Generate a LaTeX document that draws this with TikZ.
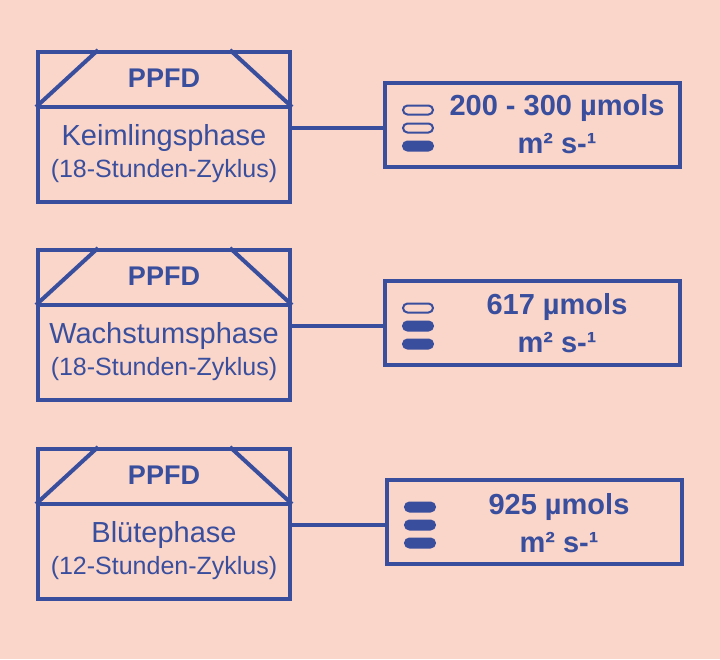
\documentclass[tikz,border=0pt]{standalone}
\usepackage{fontspec}
\setmainfont{Liberation Sans}
\usetikzlibrary{calc}
\usetikzlibrary{positioning}
\definecolor{bgpink}{HTML}{F9D6C9}
\definecolor{ppblue}{HTML}{3A4E9E}
\tikzstyle{phase} = [draw=ppblue, line width=4pt, rectangle, minimum width=252pt, minimum height=150pt, inner sep=0pt]
\tikzstyle{value} = [draw=ppblue, line width=4pt, rectangle, minimum width=295pt, minimum height=84pt, inner sep=0pt]
\tikzstyle{pill} = [draw=ppblue, line width=2pt, rounded corners=4.5pt, minimum width=30pt, minimum height=9pt, inner sep=0pt]
\tikzstyle{pillon} = [pill, fill=ppblue]
\tikzstyle{link} = [draw=ppblue, line width=4pt]
\tikzstyle{txt} = [text=ppblue, inner sep=0pt, font=\fontsize{29}{32}\selectfont]
\tikzstyle{sub} = [text=ppblue, inner sep=0pt, font=\fontsize{25}{28}\selectfont]
\tikzstyle{head} = [text=ppblue, inner sep=0pt, font=\bfseries\fontsize{27}{30}\selectfont]
\tikzstyle{num} = [text=ppblue, inner sep=0pt, font=\bfseries\fontsize{29}{32}\selectfont]

\begin{document}
\begin{tikzpicture}[x=1pt, y=-1pt]
    \fill[bgpink] (0,0) rectangle (720,659);
    \useasboundingbox (0,0) rectangle (720,659);

    % Keimlingsphase
    \node[phase] at (164,127) (phase1) {};
    \draw[link] ($(phase1.west)+(0,-20)$) -- ($(phase1.east)+(0,-20)$);
    \draw[link] ($(phase1.west)+(0,-20)$) -- ($(phase1.north west)+(62,0)$);
    \draw[link] ($(phase1.east)+(0,-20)$) -- ($(phase1.north east)+(-62,0)$);
    \node[head] at (164,78) (head1) {PPFD};
    \node[txt] at (164,138) (name1) {Keimlingsphase};
    \node[sub] at (164,171) (cyc1) {(18-Stunden-Zyklus)};
    \node[value] at (532,125) (val1) {};
    \draw[link] (phase1.east |- 0,128) -- (val1.west |- 0,128);
    \node[pill] at (418,110) (p11) {};
    \node[pill] at (418,128) (p12) {};
    \node[pillon] at (418,146) (p13) {};
    \node[num] at (557,108) (num1) {200 - 300 µmols};
    \node[num] at (557,144) (unit1) {m² s-¹};

    % Wachstumsphase
    \node[phase] at (164,325) (phase2) {};
    \draw[link] ($(phase2.west)+(0,-20)$) -- ($(phase2.east)+(0,-20)$);
    \draw[link] ($(phase2.west)+(0,-20)$) -- ($(phase2.north west)+(62,0)$);
    \draw[link] ($(phase2.east)+(0,-20)$) -- ($(phase2.north east)+(-62,0)$);
    \node[head] at (164,276) (head2) {PPFD};
    \node[txt] at (164,336) (name2) {Wachstumsphase};
    \node[sub] at (164,369) (cyc2) {(18-Stunden-Zyklus)};
    \node[value] at (532,323) (val2) {};
    \draw[link] (phase2.east |- 0,326) -- (val2.west |- 0,326);
    \node[pill] at (418,308) (p21) {};
    \node[pillon] at (418,326) (p22) {};
    \node[pillon] at (418,344) (p23) {};
    \node[num] at (557,307) (num2) {617 µmols};
    \node[num] at (557,343) (unit2) {m² s-¹};

    % Bluetephase
    \node[phase] at (164,524) (phase3) {};
    \draw[link] ($(phase3.west)+(0,-20)$) -- ($(phase3.east)+(0,-20)$);
    \draw[link] ($(phase3.west)+(0,-20)$) -- ($(phase3.north west)+(62,0)$);
    \draw[link] ($(phase3.east)+(0,-20)$) -- ($(phase3.north east)+(-62,0)$);
    \node[head] at (164,475) (head3) {PPFD};
    \node[txt] at (164,535) (name3) {Blütephase};
    \node[sub] at (164,568) (cyc3) {(12-Stunden-Zyklus)};
    \node[value] at (534,522) (val3) {};
    \draw[link] (phase3.east |- 0,525) -- (val3.west |- 0,525);
    \node[pillon] at (420,507) (p31) {};
    \node[pillon] at (420,525) (p32) {};
    \node[pillon] at (420,543) (p33) {};
    \node[num] at (559,507) (num3) {925 µmols};
    \node[num] at (559,543) (unit3) {m² s-¹};
\end{tikzpicture}
\end{document}
